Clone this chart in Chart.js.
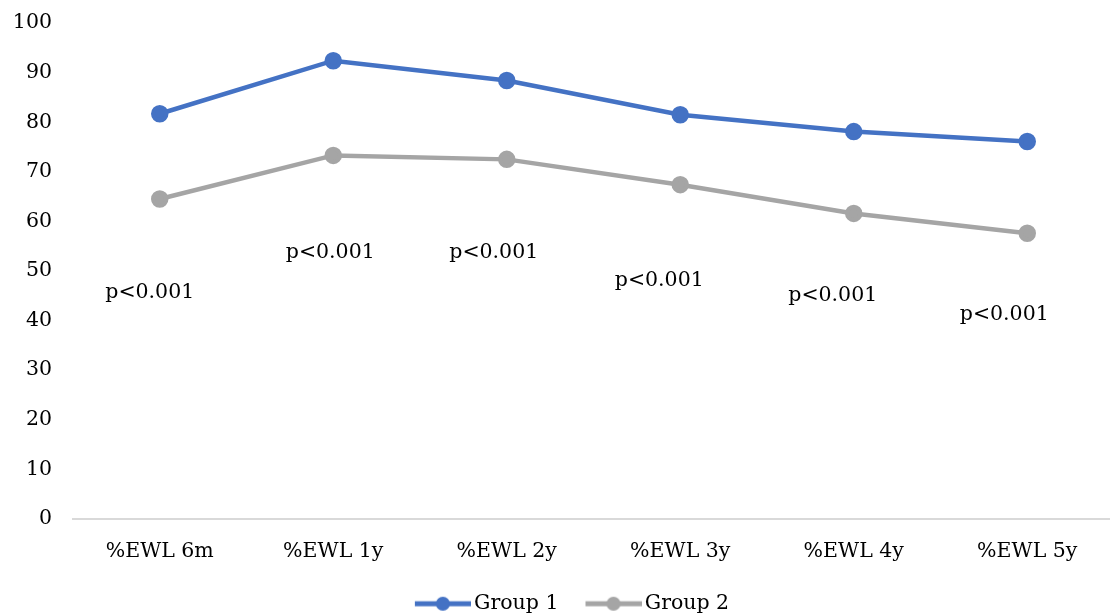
<!DOCTYPE html>
<html>
<head>
<meta charset="utf-8">
<script src="https://cdn.jsdelivr.net/npm/chart.js@4/dist/chart.umd.min.js"></script>
<style>
  html, body { margin: 0; padding: 0; background: #fff; overflow: hidden; }
</style>
</head>
<body>
<canvas id="myChart" width="1114" height="616"></canvas>
<script>
const categories = ["%EWL 6m", "%EWL 1y", "%EWL 2y", "%EWL 3y", "%EWL 4y", "%EWL 5y"];
const group1 = [81.7, 92.4, 88.4, 81.5, 78.1, 76.1];
const group2 = [64.5, 73.3, 72.5, 67.4, 61.6, 57.6];
// p-value notes and the height (in axis units) where each sits
const pLabels = ["p<0.001", "p<0.001", "p<0.001", "p<0.001", "p<0.001", "p<0.001"];
const pLevels = [45.7, 53.7, 53.7, 48.1, 45.1, 41.2];
const yTicks = [0, 10, 20, 30, 40, 50, 60, 70, 80, 90, 100];

const FONT = "'DejaVu Serif', serif";
const FSIZE = 20.5;

// line + dot image for the legend (blank strip on the left gives the gap between items)
function legendIcon(color) {
  let c = document.createElement("canvas");
  c.width = 80; c.height = 16;
  let g = c.getContext("2d");
  g.strokeStyle = color;
  g.lineWidth = 5;
  g.beginPath();
  g.moveTo(24, 8); g.lineTo(80, 8);
  g.stroke();
  g.fillStyle = color;
  g.beginPath();
  g.arc(52, 8, 7, 0, Math.PI * 2);
  g.fill();
  return c;
}

const pNotes = {
  id: "pNotes",
  afterDatasetsDraw(chart, args, opts) {
    const ctx = chart.ctx;
    const xs = chart.scales.x, ys = chart.scales.y;
    ctx.save();
    ctx.font = FSIZE + "px " + FONT;
    ctx.fillStyle = "#000";
    ctx.textAlign = "center";
    ctx.textBaseline = "middle";
    pLabels.forEach((t, i) => {
      ctx.fillText(t, xs.getPixelForValue(i) + opts.dx[i], ys.getPixelForValue(pLevels[i]));
    });
    ctx.restore();
  }
};

let ctx = document.getElementById("myChart").getContext("2d");
let myChart = new Chart(ctx, {
  type: "line",
  data: {
    labels: categories,
    datasets: [
      {
        label: "Group 1",
        data: group1,
        borderColor: "#4472C4",
        backgroundColor: "#4472C4",
        borderWidth: 4.5,
        pointRadius: 6.5,
        pointHoverRadius: 6.5,
        tension: 0,
      },
      {
        label: "Group 2",
        data: group2,
        borderColor: "#A5A5A5",
        backgroundColor: "#A5A5A5",
        borderWidth: 4.5,
        pointRadius: 6.5,
        pointHoverRadius: 6.5,
        tension: 0,
      },
    ],
  },
  options: {
    responsive: false,
    animation: false,
    layout: { autoPadding: false, padding: { left: 13, right: 0, top: 23, bottom: -8 } },
    scales: {
      x: {
        offset: true,
        afterFit: s => { s.paddingLeft = 0; s.paddingRight = 0; },
        grid: { display: false, drawTicks: false },
        border: { display: true, color: "#D9D9D9", width: 2 },
        ticks: { color: "#000", font: { family: FONT, size: FSIZE }, padding: 20, maxRotation: 0 },
      },
      y: {
        min: 0,
        max: 100,
        afterBuildTicks: s => { s.ticks = yTicks.map(v => ({ value: v })); },
        afterFit: s => { s.width = 60; s.paddingTop = 0; s.paddingBottom = 0; },
        grid: { display: false, drawTicks: false },
        border: { display: false },
        ticks: { color: "#000", font: { family: FONT, size: FSIZE }, padding: 21 },
      },
    },
    plugins: {
      tooltip: { enabled: false },
      pNotes: { dx: [-10, -3, -13, -21, -21, -23] },
      legend: {
        position: "bottom",
        labels: {
          color: "#000",
          font: { family: FONT, size: FSIZE },
          usePointStyle: true,
          pointStyleWidth: 66,
          padding: 10,
          generateLabels: chart => chart.data.datasets.map((d, i) => ({
            text: d.label,
            pointStyle: legendIcon(d.borderColor),
            fillStyle: d.borderColor,
            strokeStyle: d.borderColor,
            lineWidth: 0,
            fontColor: "#000",
            datasetIndex: i,
            hidden: false,
          })),
        },
      },
    },
  },
  plugins: [pNotes],
});
</script>
</body>
</html>
